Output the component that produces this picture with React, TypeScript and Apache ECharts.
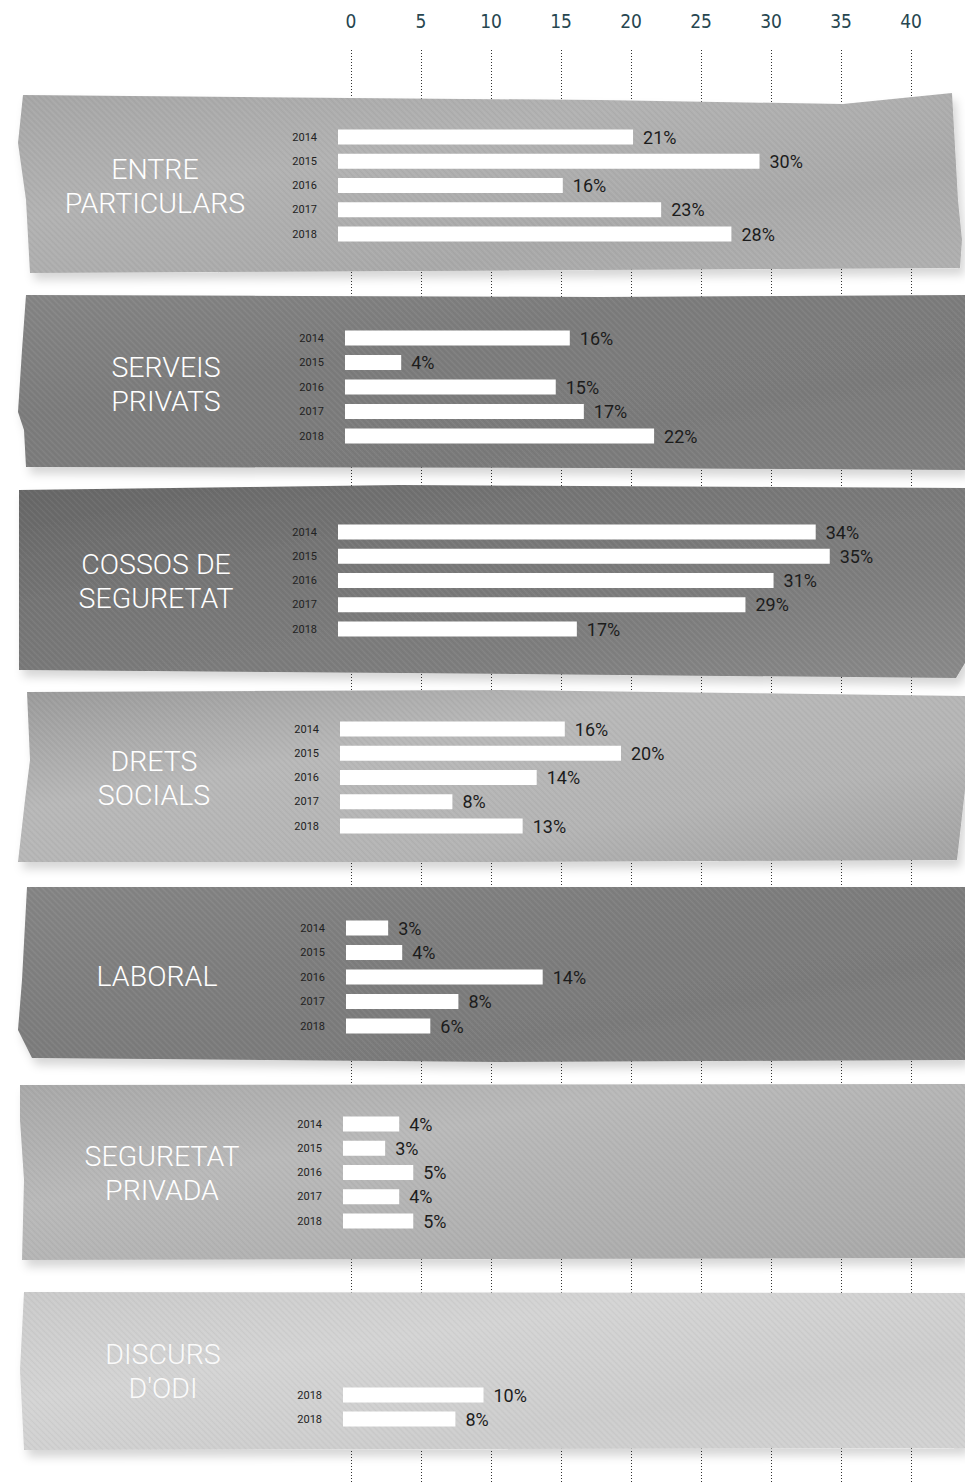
import React, { useEffect, useRef } from "react";
import * as echarts from "echarts";

// ---- data ----
const years = ["2014", "2015", "2016", "2017", "2018"];
const discursYears = ["2018", "2018"];
const categoryNames = [
  "ENTRE\nPARTICULARS",
  "SERVEIS\nPRIVATS",
  "COSSOS DE\nSEGURETAT",
  "DRETS\nSOCIALS",
  "LABORAL",
  "SEGURETAT\nPRIVADA",
  "DISCURS\nD'ODI",
];
const entreParticulars = [21, 30, 16, 23, 28];
const serveisPrivats = [16, 4, 15, 17, 22];
const cossosSeguretat = [34, 35, 31, 29, 17];
const dretsSocials = [16, 20, 14, 8, 13];
const laboral = [3, 4, 14, 8, 6];
const seguretatPrivada = [4, 3, 5, 4, 5];
const discursOdi = [10, 8];
const axisMin = 0;
const axisMax = 40;
const axisStep = 5;

const seriesData = [
  { cats: years, values: entreParticulars },
  { cats: years, values: serveisPrivats },
  { cats: years, values: cossosSeguretat },
  { cats: years, values: dretsSocials },
  { cats: years, values: laboral },
  { cats: years, values: seguretatPrivada },
  { cats: discursYears, values: discursOdi },
];

// ---- layout / style ----
const PX_PER_UNIT = 14.05;
const layouts = [
  {
    top: 124.9, height: 121.25, left: 338, lx: 155, ly: 186,
    poly: [[23, 95], [350, 98], [600, 100], [843, 104], [952, 93], [958, 200], [962, 240], [960, 268], [600, 270], [30, 273], [26, 200], [18, 143]],
    colors: ["#a6a6a6", "#b2b2b2", "#a9a9a9", "#b0b0b0"],
  },
  {
    top: 325.75, height: 122.5, left: 345, lx: 166, ly: 384,
    poly: [[26, 295], [600, 297], [965, 295], [965, 470], [600, 468], [26, 467], [24, 430], [18, 412], [22, 350]],
    colors: ["#858585", "#7c7c7c", "#7a7a7a", "#808080"],
  },
  {
    top: 519.9, height: 121.25, left: 338, lx: 156, ly: 581,
    poly: [[19, 490], [400, 485], [965, 488], [965, 663], [956, 678], [400, 673], [19, 670]],
    colors: ["#666666", "#767676", "#7e7e7e", "#8a8a8a"],
  },
  {
    top: 716.9, height: 121.25, left: 340, lx: 154, ly: 778,
    poly: [[27, 692], [500, 690], [965, 696], [965, 790], [957, 860], [500, 862], [18, 862], [25, 800], [30, 760]],
    colors: ["#9a9a9a", "#b8b8b8", "#b4b4b4", "#a2a2a2"],
  },
  {
    top: 915.75, height: 122.5, left: 346, lx: 157, ly: 976,
    poly: [[27, 887], [965, 887], [965, 1060], [500, 1062], [32, 1058], [18, 1030], [22, 980]],
    colors: ["#858585", "#7e7e7e", "#7a7a7a", "#808080"],
  },
  {
    top: 1111.9, height: 121.25, left: 343, lx: 162, ly: 1173,
    poly: [[20, 1085], [965, 1084], [965, 1258], [22, 1260], [24, 1180], [20, 1120]],
    colors: ["#a8a8a8", "#b9b9b9", "#b0b0b0", "#a8a8a8"],
  },
  {
    top: 1383, height: 48, left: 343, lx: 163, ly: 1371,
    poly: [[24, 1292], [965, 1293], [965, 1448], [24, 1450], [20, 1370]],
    colors: ["#cacaca", "#d4d4d4", "#cdcdcd", "#d2d2d2"],
  },
];

const FONT = "Roboto, 'Noto Sans', sans-serif";

function makeHatch(): HTMLCanvasElement {
  const cv = document.createElement("canvas");
  cv.width = 6;
  cv.height = 6;
  const ctx = cv.getContext("2d")!;
  ctx.strokeStyle = "rgba(255,255,255,0.06)";
  ctx.lineWidth = 1.2;
  for (let k = -1; k <= 1; k++) {
    ctx.beginPath();
    ctx.moveTo(k * 6, 0);
    ctx.lineTo(k * 6 + 6, 6);
    ctx.stroke();
  }
  ctx.strokeStyle = "rgba(0,0,0,0.035)";
  for (let k = -1; k <= 1; k++) {
    ctx.beginPath();
    ctx.moveTo(k * 6 + 3, 0);
    ctx.lineTo(k * 6 + 9, 6);
    ctx.stroke();
  }
  return cv;
}

export default function App() {
  const ref = useRef<HTMLDivElement>(null);

  useEffect(() => {
    document.body.style.margin = "0";
    const chart = echarts.init(ref.current!, null, { renderer: "svg" });
    const hatch = makeHatch();

    const grids: any[] = [
      { left: 351, width: 560, top: 50, bottom: 0, containLabel: false },
    ];
    const xAxes: any[] = [
      {
        gridIndex: 0,
        type: "value",
        position: "top",
        min: axisMin,
        max: axisMax,
        interval: axisStep,
        axisLine: { show: false },
        axisTick: { show: false },
        axisLabel: {
          margin: 20,
          fontSize: 19,
          color: "#274650",
          fontFamily: "'DejaVu Sans Condensed', 'Liberation Sans Narrow', Roboto, sans-serif",
        },
        splitLine: {
          show: true,
          lineStyle: { color: "#333", width: 1, type: [1, 2] },
        },
        z: 0,
      },
    ];
    const yAxes: any[] = [
      { gridIndex: 0, type: "category", data: [""], show: false },
    ];
    const series: any[] = [];
    const graphics: any[] = [];

    layouts.forEach((lay, i) => {
      const gi = i + 1;
      grids.push({
        left: lay.left,
        width: (axisMax - axisMin) * PX_PER_UNIT,
        top: lay.top,
        height: lay.height,
        containLabel: false,
      });
      xAxes.push({
        gridIndex: gi,
        type: "value",
        min: axisMin,
        max: axisMax,
        show: false,
      });
      yAxes.push({
        gridIndex: gi,
        type: "category",
        inverse: true,
        data: seriesData[i].cats,
        axisLine: { show: false },
        axisTick: { show: false },
        splitLine: { show: false },
        axisLabel: {
          margin: 21,
          fontSize: 11,
          color: "#222",
          fontFamily: FONT,
        },
        z: 5,
      });
      series.push({
        type: "bar",
        xAxisIndex: gi,
        yAxisIndex: gi,
        data: seriesData[i].values,
        barWidth: 15,
        itemStyle: { color: "#ffffff" },
        label: {
          show: true,
          position: "right",
          distance: 10,
          formatter: "{c}%",
          fontSize: 18,
          color: "#1c1c1c",
          fontFamily: FONT,
        },
        silent: true,
        z: 3,
      });
      const c = lay.colors;
      graphics.push({
        type: "polygon",
        z: 1,
        shape: { points: lay.poly },
        style: {
          fill: new echarts.graphic.LinearGradient(0, 0, 1, 1, [
            { offset: 0, color: c[0] },
            { offset: 0.35, color: c[1] },
            { offset: 0.7, color: c[2] },
            { offset: 1, color: c[3] },
          ]),
          shadowBlur: 10,
          shadowOffsetY: 7,
          shadowOffsetX: 4,
          shadowColor: "rgba(0,0,0,0.16)",
        },
      });
      graphics.push({
        type: "polygon",
        z: 1,
        z2: 1,
        silent: true,
        shape: { points: lay.poly },
        style: {
          fill: { image: hatch, repeat: "repeat", imageWidth: 6, imageHeight: 6 },
        },
      });
      graphics.push({
        type: "text",
        z: 4,
        x: lay.lx,
        y: lay.ly,
        style: {
          text: categoryNames[i],
          fill: i === 6 ? "rgba(255,255,255,0.92)" : "#ffffff",
          fontSize: 28.5,
          fontWeight: 300,
          fontFamily: FONT,
          lineHeight: 34,
          align: "center",
          verticalAlign: "middle",
        },
      });
    });

    chart.setOption({
      animation: false,
      backgroundColor: "#ffffff",
      grid: grids,
      xAxis: xAxes,
      yAxis: yAxes,
      series,
      graphic: { elements: graphics },
    });

    return () => chart.dispose();
  }, []);

  return <div ref={ref} style={{ width: 965, height: 1482 }} />;
}
